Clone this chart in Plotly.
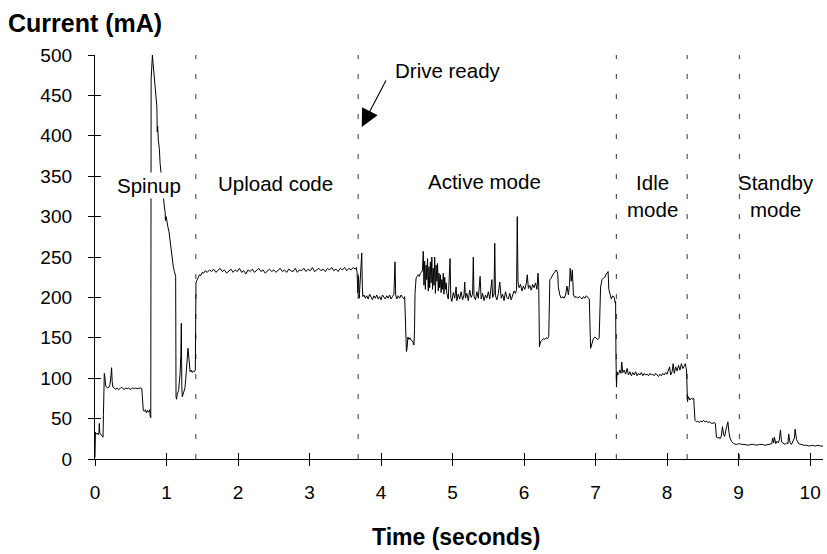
import plotly.graph_objects as go

# ---------------- data ----------------
# Pre-spinup (electronics on, waiting)
pre_t = [0.000, 0.006, 0.015, 0.030, 0.045, 0.055, 0.060, 0.068, 0.085, 0.100, 0.112, 0.118, 0.124, 0.130,
         0.140, 0.150, 0.165, 0.180, 0.195, 0.210, 0.225, 0.232, 0.240, 0.250, 0.27, 0.29, 0.31, 0.33, 0.35,
         0.37, 0.39, 0.41, 0.43, 0.45, 0.47, 0.49, 0.51, 0.53, 0.55, 0.57, 0.59, 0.61, 0.63, 0.655, 0.665,
         0.675, 0.69, 0.705, 0.72, 0.735, 0.75, 0.765, 0.772, 0.780]
pre_i = [2, 33, 31, 32, 30, 33, 44, 32, 30, 29, 27, 55, 100, 106,
         100, 90, 89, 88, 89, 92, 105, 113, 96, 89, 88, 86, 88, 86, 87,
         89, 87, 86, 88, 87, 88, 86, 87, 88, 87, 88, 87, 88, 88, 87, 62,
         60, 59, 61, 57, 60, 58, 61, 53, 51]

# Spinup surge
spin_t = [0.785, 0.795, 0.803, 0.812, 0.822, 0.835, 0.850, 0.865, 0.870, 0.876, 0.885, 0.900, 0.910,
          0.930, 0.950, 0.970, 0.980, 0.985, 0.995, 1.005, 1.020, 1.035, 1.050, 1.065, 1.080, 1.095,
          1.110, 1.128]
spin_i = [470, 495, 500, 490, 478, 462, 448, 436, 405, 412, 395, 384, 366,
          345, 328, 312, 306, 295, 300, 292, 287, 281, 268, 258, 248, 238,
          232, 226]

# After spinup, before code upload
post_t = [1.133, 1.140, 1.150, 1.160, 1.170, 1.180, 1.190, 1.200, 1.207, 1.214, 1.220, 1.232, 1.245,
          1.258, 1.270, 1.282, 1.292, 1.300, 1.308, 1.318, 1.330, 1.345, 1.360, 1.375, 1.390, 1.403]
post_i = [77, 74, 80, 83, 85, 96, 106, 128, 168, 90, 77, 80, 85,
          88, 100, 114, 122, 137, 130, 118, 108, 110, 107, 109, 108, 110]

# Upload code
upload_t = [1.408, 1.412, 1.425, 1.44, 1.46, 1.48, 1.50, 1.52, 1.54,
            1.57, 1.60, 1.63, 1.66, 1.69, 1.72, 1.75, 1.78, 1.81, 1.84, 1.87, 1.90, 1.93, 1.96, 1.99,
            2.02, 2.05, 2.08, 2.11, 2.14, 2.17, 2.20, 2.23, 2.26, 2.29, 2.32, 2.35, 2.38, 2.41, 2.44,
            2.47, 2.50, 2.53, 2.56, 2.59, 2.62, 2.65, 2.68, 2.71, 2.74, 2.77, 2.80, 2.83, 2.86, 2.89,
            2.92, 2.95, 2.98, 3.01, 3.04, 3.07, 3.10, 3.13, 3.16, 3.19, 3.22, 3.25, 3.28, 3.31, 3.34,
            3.37, 3.40, 3.43, 3.46, 3.49, 3.52, 3.55, 3.58, 3.61, 3.64]
upload_i = [205, 218, 221, 225, 228, 227, 231, 230, 233,
            231, 234, 232, 235, 231, 233, 236, 232, 234, 230, 233, 235, 231, 234, 232,
            236, 231, 233, 229, 234, 232, 235, 231, 233, 236, 232, 234, 230, 233, 235,
            232, 234, 231, 233, 236, 232, 234, 231, 235, 233, 232, 236, 231, 234, 233,
            236, 232, 235, 233, 237, 232, 234, 236, 233, 235, 232, 236, 234, 237, 233,
            235, 232, 236, 234, 237, 233, 236, 234, 237, 235]

# Drive ready transition
ready_t = [3.655, 3.665, 3.675, 3.685, 3.695, 3.705, 3.715, 3.722, 3.730, 3.738, 3.745]
ready_i = [237, 231, 205, 226, 199, 215, 240, 248, 255, 215, 201]

# Active mode
active_t = [3.76, 3.78, 3.80, 3.82, 3.84, 3.86, 3.88, 3.90, 3.92, 3.94, 3.96, 3.98, 4.00, 4.02, 4.04,
            4.06, 4.08, 4.10, 4.12, 4.14, 4.16, 4.18, 4.195, 4.205, 4.22, 4.24, 4.26, 4.28, 4.30, 4.32,
            4.33,
            4.338, 4.345, 4.355, 4.365, 4.375, 4.39, 4.405, 4.42, 4.44, 4.46, 4.468, 4.475, 4.49, 4.505,
            4.52, 4.535, 4.55, 4.565, 4.58, 4.59,
            4.60, 4.61, 4.62, 4.63, 4.64, 4.65, 4.66, 4.67, 4.68, 4.69, 4.70, 4.71, 4.72, 4.73, 4.74,
            4.75, 4.76, 4.77, 4.78, 4.79, 4.80, 4.81, 4.82, 4.83, 4.84, 4.85, 4.86, 4.87, 4.88, 4.89,
            4.90, 4.91,
            4.92, 4.94, 4.965, 4.975, 4.99, 5.01, 5.03, 5.05, 5.06, 5.08, 5.10, 5.12, 5.14, 5.16, 5.17,
            5.18, 5.20, 5.22, 5.24, 5.26, 5.28, 5.29, 5.30, 5.32, 5.34, 5.36, 5.385, 5.40, 5.42, 5.44,
            5.46, 5.48, 5.50, 5.52, 5.55, 5.56, 5.58, 5.59, 5.60, 5.62, 5.64, 5.66, 5.68, 5.70, 5.72,
            5.74, 5.76, 5.78, 5.80, 5.82, 5.84, 5.86, 5.88, 5.895, 5.905, 5.915,
            5.93, 5.95, 5.97, 5.99, 6.01, 6.03, 6.045, 6.06, 6.08, 6.10, 6.12, 6.14, 6.16, 6.18, 6.195,
            6.205,
            6.215, 6.23, 6.25, 6.27, 6.29, 6.31, 6.33, 6.345, 6.36, 6.38, 6.40, 6.42, 6.45, 6.47, 6.48,
            6.50, 6.52, 6.54, 6.56, 6.58, 6.60, 6.62, 6.635, 6.645, 6.66, 6.675, 6.69, 6.71, 6.73, 6.75,
            6.77, 6.79, 6.81, 6.83, 6.85, 6.87, 6.89, 6.905, 6.912, 6.93, 6.95, 6.97, 6.99, 7.01, 7.03,
            7.045, 7.05, 7.07, 7.09, 7.11, 7.13, 7.15, 7.165, 7.175, 7.185, 7.20, 7.22, 7.24, 7.26,
            7.275]
active_i = [203, 199, 202, 198, 204, 200, 197, 202, 199, 203, 198, 201, 197, 203, 200,
            198, 202, 199, 203, 198, 201, 204, 244, 203, 198, 202, 199, 203, 200, 198,
            201,
            180, 141, 133, 138, 151, 148, 150, 147, 146, 141, 160, 205, 224, 226,
            228, 226, 230, 231, 234, 257,
            215, 245, 210, 240, 222, 248, 208, 238, 212, 244, 218, 250, 210, 236, 215,
            250, 205, 240, 220, 242, 208, 230, 212, 228, 206, 222, 210, 230, 204, 225,
            210, 218,
            205, 198, 248, 200, 195, 206, 199, 213, 196, 204, 198, 207, 197, 203, 219,
            199, 205, 196, 209, 200, 204, 250, 201, 197, 207, 199, 226, 198, 205, 196,
            203, 199, 207, 198, 222, 200, 204, 267, 202, 197, 205, 219, 199, 204, 196,
            207, 200, 198, 205, 197, 203, 208, 205, 210, 300, 219,
            212, 216, 208, 214, 210, 217, 228, 211, 215, 209, 216, 212, 218, 210, 230,
            214,
            139, 145, 147, 149, 148, 150, 149, 152, 222, 224, 228, 231, 234, 230, 212,
            203, 199, 201, 199, 203, 214, 203, 216, 236, 220, 234, 203, 200, 201, 199,
            201, 200, 198, 201, 199, 202, 200, 199, 198, 137, 145, 149, 151, 150, 148,
            149, 150, 213, 222, 224, 225, 229, 231, 232, 210, 203, 198, 202, 200, 193,
            195]

# Idle mode
idle_t = [7.280, 7.285, 7.292, 7.30, 7.31, 7.325, 7.34, 7.355, 7.365, 7.38, 7.40, 7.42, 7.44, 7.46,
          7.48, 7.50, 7.52, 7.54, 7.56, 7.58, 7.60, 7.62, 7.64, 7.66, 7.68, 7.70, 7.72, 7.74, 7.76,
          7.78, 7.80, 7.82, 7.84, 7.86, 7.88, 7.90, 7.92, 7.94, 7.96, 7.98, 8.00, 8.02, 8.035, 8.05,
          8.07, 8.085, 8.10, 8.12, 8.14, 8.16, 8.18, 8.20, 8.22, 8.245, 8.255]
idle_i = [127, 89, 108, 104, 106, 110, 106, 120, 107, 110, 105, 112, 104, 108,
          103, 107, 104, 108, 103, 106, 104, 107, 103, 106, 104, 105, 103, 106, 104,
          105, 103, 106, 104, 102, 105, 103, 106, 104, 107, 105, 110, 114, 104, 108,
          118, 106, 114, 109, 116, 110, 118, 112, 116, 118, 113]

# Spin-down towards standby
down_t = [8.265, 8.272, 8.285, 8.30, 8.32, 8.34, 8.365, 8.372, 8.39, 8.41, 8.43, 8.45, 8.47, 8.49,
          8.51, 8.53, 8.55, 8.57, 8.59, 8.61, 8.625, 8.668, 8.675, 8.69, 8.71, 8.725, 8.74, 8.755,
          8.765, 8.775, 8.79, 8.805, 8.82, 8.835, 8.85, 8.865, 8.88, 8.90]
down_i = [110, 71, 77, 73, 75, 74, 75, 48, 46, 47, 45, 47, 46, 48,
          46, 47, 45, 46, 45, 44, 45, 44, 27, 26, 27, 25, 27, 33,
          40, 30, 28, 35, 40, 46, 33, 26, 22, 19]

# Standby mode
standby_t = [8.93, 8.97, 9.01, 9.05, 9.09, 9.13, 9.17, 9.21, 9.25, 9.29, 9.33, 9.37, 9.41, 9.44,
             9.465, 9.475, 9.49, 9.50, 9.52, 9.535, 9.555, 9.57, 9.585, 9.60, 9.63, 9.65, 9.67, 9.69,
             9.70, 9.72, 9.74, 9.765, 9.78, 9.79, 9.81, 9.84, 9.87, 9.91, 9.95, 9.99, 10.03, 10.07,
             10.11, 10.15, 10.19]
standby_i = [18, 19, 18, 18, 17, 18, 18, 17, 18, 18, 17, 18, 18, 19,
             26, 20, 27, 19, 22, 20, 24, 36, 21, 19, 18, 20, 19, 31,
             20, 18, 22, 26, 37, 24, 19, 18, 17, 17, 16, 17, 16, 17,
             16, 16, 17]

# Phase boundaries (dashed lines), seconds
phase_boundaries = [1.41, 3.68, 7.29, 8.28, 9.01]

# Phase labels: (text, time, current)
phase_labels = ["Spinup", "Upload code", "Active mode", "Idle<br>mode", "Standby<br>mode"]
phase_label_t = [0.75, 2.52, 5.45, 7.79, 9.52]
phase_label_i = [339, 341, 344, 325, 325]

x_ticks = list(range(0, 11))
y_ticks = list(range(0, 501, 50))

# ---------------- figure ----------------
time_s = pre_t + spin_t + post_t + upload_t + ready_t + active_t + idle_t + down_t + standby_t
current_ma = pre_i + spin_i + post_i + upload_i + ready_i + active_i + idle_i + down_i + standby_i

FONT = "Liberation Sans, Arial, sans-serif"
X_RANGE = [0, 10.18]
Y_RANGE = [0, 500]

fig = go.Figure()
fig.add_trace(go.Scatter(x=time_s, y=current_ma, mode="lines",
                         line=dict(color="black", width=1), showlegend=False, hoverinfo="skip"))
# invisible trace to activate the overlay axes (inside half of the crossing ticks)
fig.add_trace(go.Scatter(x=[X_RANGE[0]], y=[Y_RANGE[0]], xaxis="x2", yaxis="y2", mode="markers",
                         marker=dict(opacity=0), showlegend=False, hoverinfo="skip"))

for tb in phase_boundaries:
    fig.add_shape(type="line", xref="x", yref="y", x0=tb, x1=tb, y0=Y_RANGE[0], y1=Y_RANGE[1],
                  line=dict(color="#333333", width=1, dash="5px,15px"), layer="below")

for txt, tx, ty in zip(phase_labels, phase_label_t, phase_label_i):
    fig.add_annotation(x=tx, y=ty, xref="x", yref="y", text=txt, showarrow=False,
                       font=dict(family=FONT, size=20.5, color="black"),
                       bgcolor="white" if txt == "Spinup" else "rgba(0,0,0,0)", borderpad=1)

# "Drive ready" label and arrow
fig.add_annotation(x=4.94, y=481, xref="x", yref="y", text="Drive ready", showarrow=False,
                   font=dict(family=FONT, size=20.5, color="black"))
fig.add_annotation(x=3.73, y=411, xref="x", yref="y", text="", showarrow=True,
                   ax=25, ay=-48, arrowhead=2, arrowsize=3.2, arrowwidth=1.1, arrowcolor="black",
                   standoff=0)

# axis titles
fig.add_annotation(x=0.496, y=-0.193, xref="paper", yref="paper", text="<b>Time (seconds)</b>",
                   showarrow=False, font=dict(family=FONT, size=23, color="black"),
                   xanchor="center", yanchor="middle")

axis_common = dict(showgrid=False, zeroline=False, tickcolor="black", tickwidth=1, ticklen=6,
                   automargin=False)

fig.update_layout(
    width=827, height=554,
    margin=dict(l=95, r=4, t=55, b=95),
    paper_bgcolor="white", plot_bgcolor="white",
    font=dict(family=FONT, color="black"),
    title=dict(text="<b>Current (mA)</b>", x=8 / 827, xref="container", xanchor="left",
               y=1 - 23 / 554, yref="container", yanchor="middle", automargin=False,
               font=dict(family=FONT, size=25, color="black")),
    xaxis=dict(range=X_RANGE, tickvals=x_ticks, ticks="outside", showline=True, linecolor="black",
               linewidth=1.3, tickfont=dict(family=FONT, size=19, color="black"),
               ticklabelstandoff=10, **axis_common),
    yaxis=dict(range=Y_RANGE, tickvals=y_ticks, ticks="outside", showline=True, linecolor="black",
               linewidth=1.3, tickfont=dict(family=FONT, size=19, color="black"),
               ticklabelstandoff=12, **axis_common),
    xaxis2=dict(range=X_RANGE, tickvals=x_ticks, ticks="inside", overlaying="x", anchor="y",
                side="bottom", showline=False, showticklabels=False, **axis_common),
    yaxis2=dict(range=Y_RANGE, tickvals=y_ticks, ticks="inside", overlaying="y", anchor="x",
                side="left", showline=False, showticklabels=False, **axis_common),
)

fig.write_html("out.html", config={"displayModeBar": False},
               post_script="document.body.style.margin='0px';document.body.style.overflow='hidden';")
